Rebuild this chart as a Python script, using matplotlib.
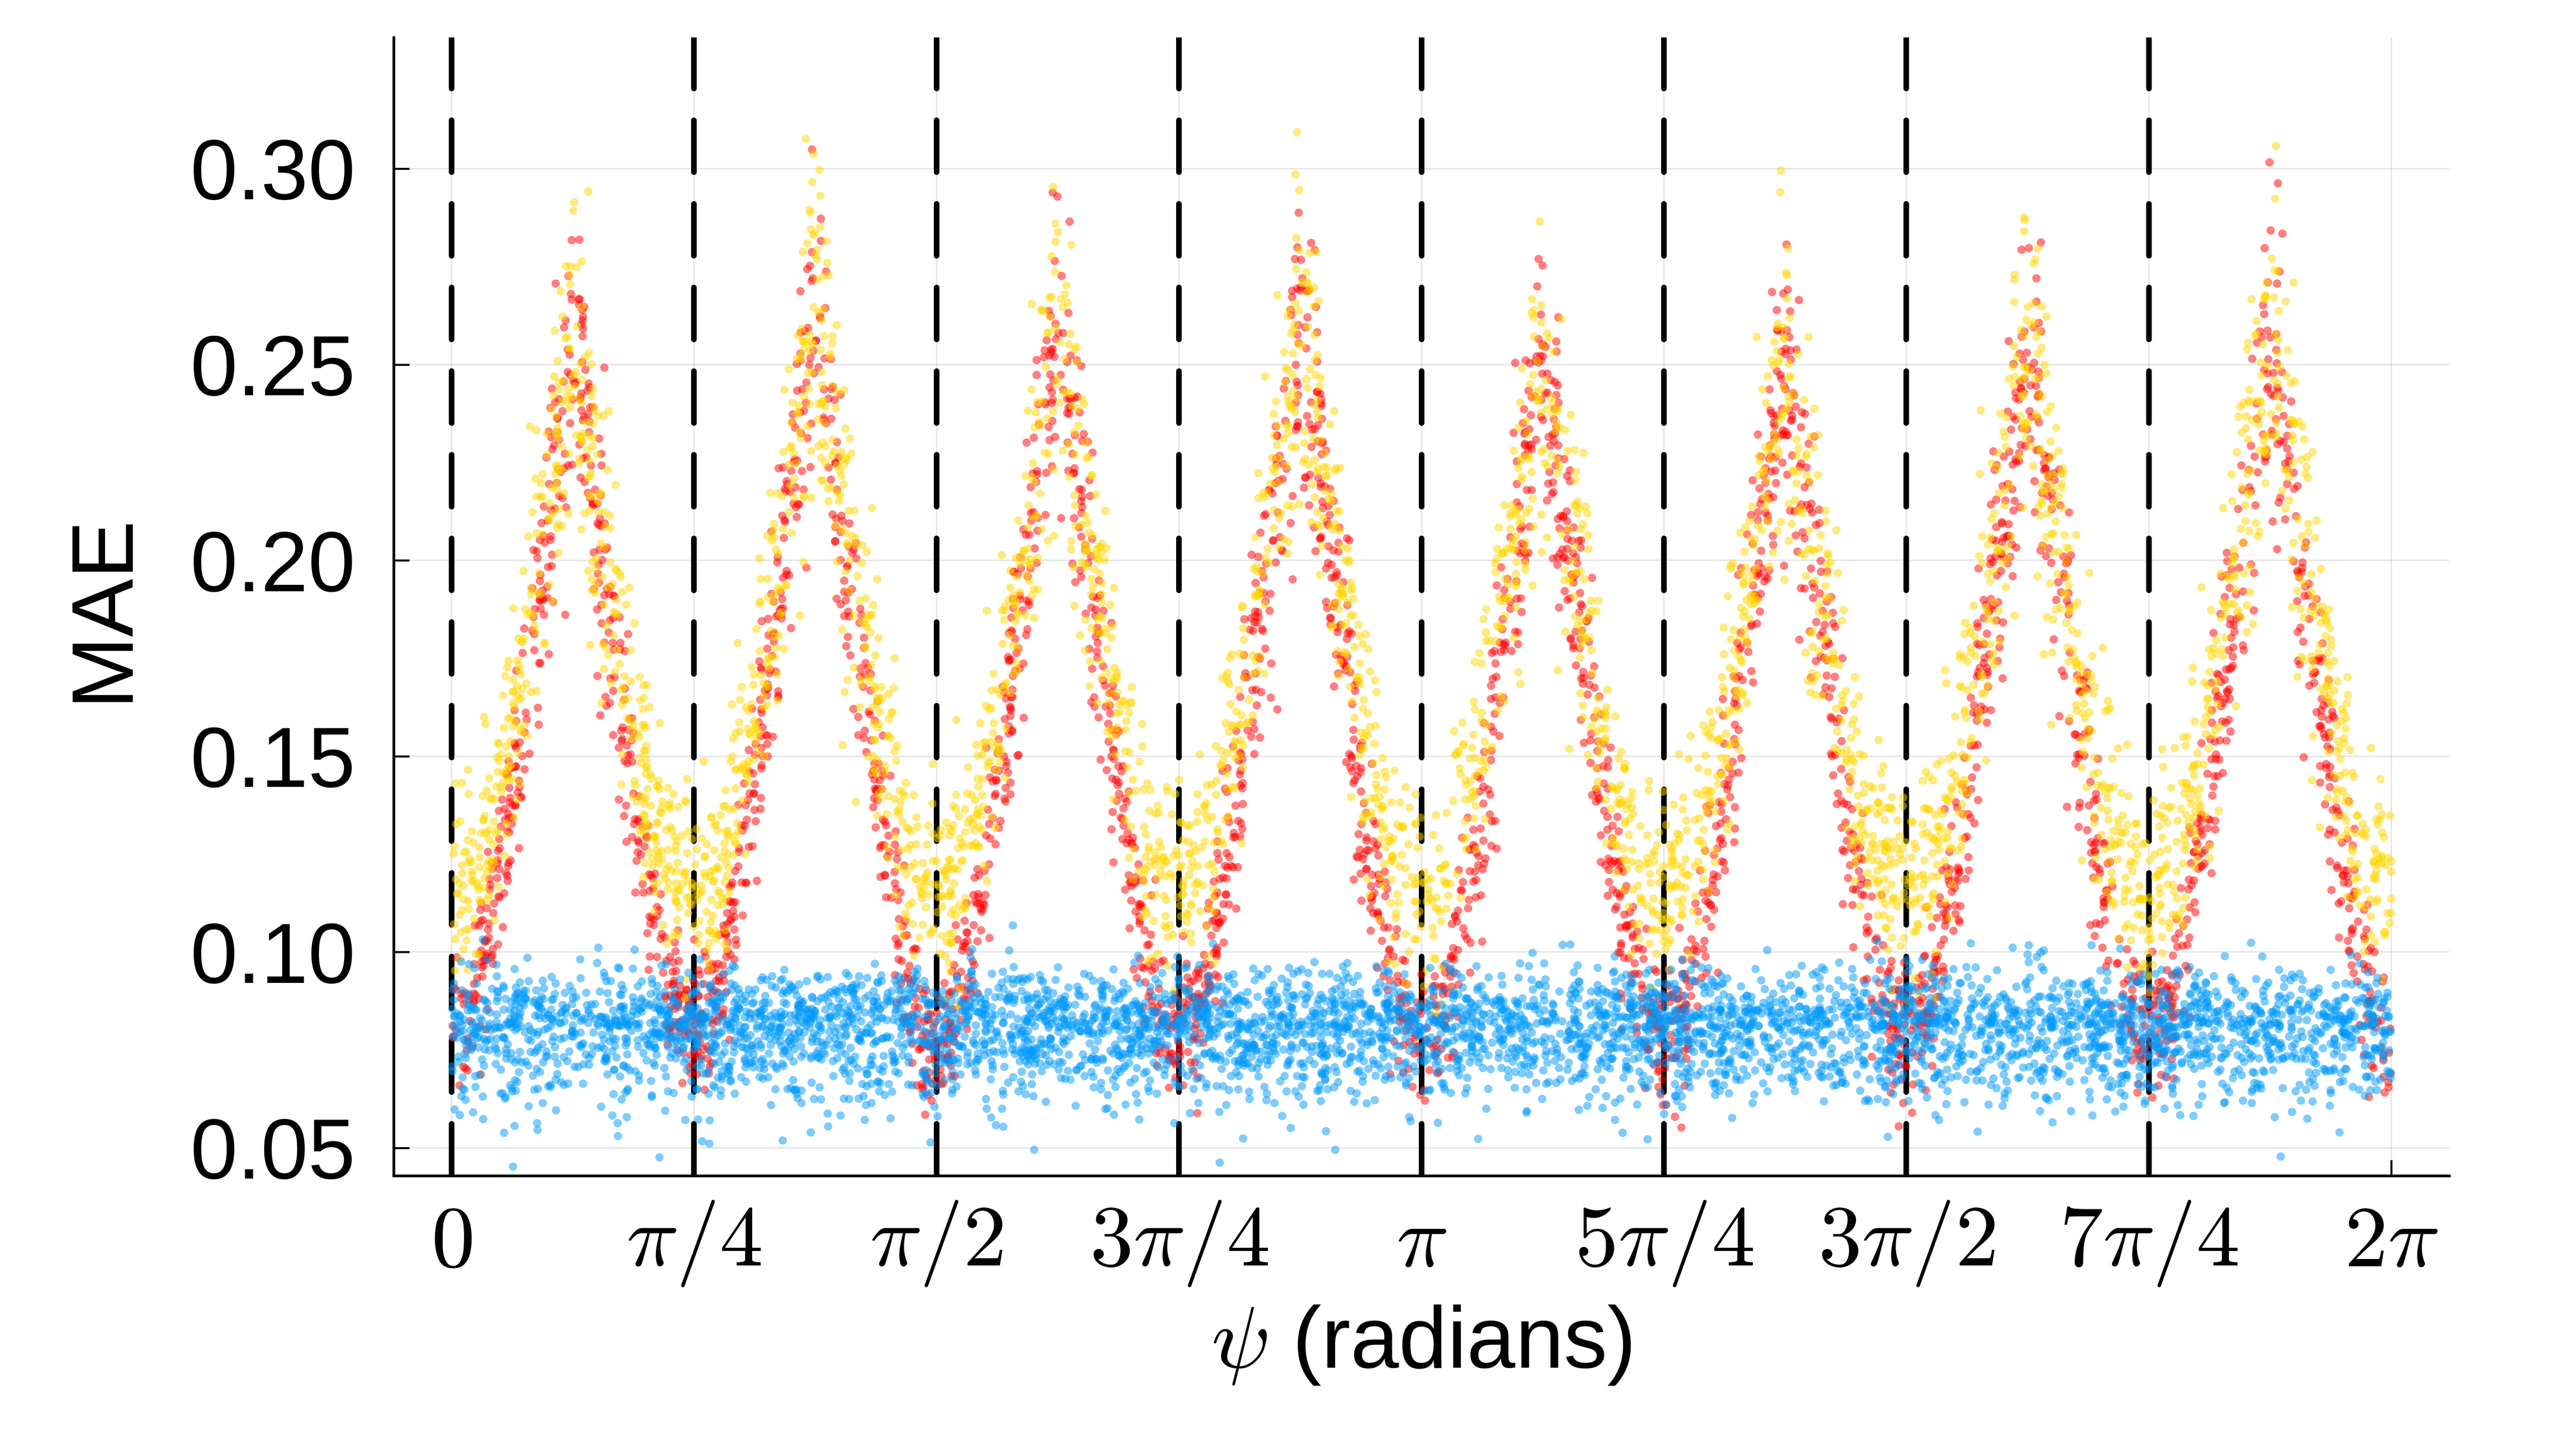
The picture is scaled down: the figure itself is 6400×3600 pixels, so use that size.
import numpy as np
import matplotlib
matplotlib.use("Agg")
import matplotlib.pyplot as plt

# ---------------- data ----------------
# Tick positions / labels
x_ticks = [0, np.pi/4, np.pi/2, 3*np.pi/4, np.pi, 5*np.pi/4, 3*np.pi/2, 7*np.pi/4, 2*np.pi]
x_tick_labels = [r'$0$', r'$\pi/4$', r'$\pi/2$', r'$3\pi/4$', r'$\pi$',
                 r'$5\pi/4$', r'$3\pi/2$', r'$7\pi/4$', r'$2\pi$']
y_ticks = [0.05, 0.10, 0.15, 0.20, 0.25, 0.30]
y_tick_labels = ['0.05', '0.10', '0.15', '0.20', '0.25', '0.30']
dashed_x = [0, np.pi/4, np.pi/2, 3*np.pi/4, np.pi, 5*np.pi/4, 3*np.pi/2, 7*np.pi/4]

# Red series: trough values at k*pi/4 (k=0..8) and peak values at (k+1/2)*pi/4
red_troughs = [0.079, 0.079, 0.078, 0.079, 0.078, 0.079, 0.079, 0.079, 0.079]
red_peaks = [0.255, 0.265, 0.260, 0.262, 0.250, 0.250, 0.255, 0.258]
# Yellow series
yellow_troughs = [0.117, 0.116, 0.117, 0.116, 0.117, 0.117, 0.116, 0.117, 0.117]
yellow_peaks = [0.256, 0.266, 0.261, 0.263, 0.252, 0.251, 0.256, 0.259]
# Shape of a flank: fraction of the rise (trough -> peak) at fraction f of the half period
flank_f = [0.0, 0.10, 0.20, 0.30, 0.45, 0.60, 0.75, 0.88, 1.0]
red_profile = [0.0, 0.012, 0.052, 0.145, 0.283, 0.485, 0.670, 0.844, 1.0]
yellow_profile = [0.0, 0.007, 0.036, 0.109, 0.254, 0.442, 0.638, 0.820, 1.0]
# Spread of each cloud: sigma = a + b * value
red_spread = [0.004, 0.060]
yellow_spread = [0.004, 0.070]
# Blue series: flat cloud
blue_center = 0.0805
blue_sigma_up = 0.0075
blue_sigma_down = 0.0095
# Number of points in each cloud (estimated)
n_blue, n_red, n_yellow = 4800, 3400, 3400

# ---------------- build clouds ----------------
seg = np.pi / 4


def nodes(troughs, peaks, profile):
    xs, ys = [], []
    for k in range(len(peaks)):
        t0, t1, p = troughs[k], troughs[k + 1], peaks[k]
        for f, pr in zip(flank_f, profile):
            xs.append(k * seg + f * seg / 2)
            ys.append(t0 + pr * (p - t0))
        for f, pr in list(zip(flank_f, profile))[::-1][1:]:
            xs.append((k + 1) * seg - f * seg / 2)
            ys.append(t1 + pr * (p - t1))
    return np.array(xs), np.array(ys)


rng = np.random.default_rng(11)


def cloud(n, troughs, peaks, profile, spread):
    nx, ny = nodes(troughs, peaks, profile)
    x = rng.uniform(0, 2 * np.pi, n)
    c = np.interp(x, nx, ny)
    y = c + (spread[0] + spread[1] * c) * rng.standard_normal(n)
    return x, y


xr, yr = cloud(n_red, red_troughs, red_peaks, red_profile, red_spread)
xy, yy = cloud(n_yellow, yellow_troughs, yellow_peaks, yellow_profile, yellow_spread)
xb = rng.uniform(0, 2 * np.pi, n_blue)
zb = rng.standard_normal(n_blue)
yb = blue_center + np.where(zb > 0, blue_sigma_up, blue_sigma_down) * zb

# ---------------- plot ----------------
plt.rcParams['font.family'] = ['Liberation Sans', 'DejaVu Sans']
plt.rcParams['mathtext.fontset'] = 'cm'

fig = plt.figure(figsize=(16, 9), dpi=400)
ax = fig.add_axes([0.1528, 0.1886, 0.7980, 0.7856])

ax.set_xlim(-0.188, 2 * np.pi + 0.188)
ax.set_ylim(0.0429, 0.3335)

ax.set_axisbelow(True)
ax.grid(True, color='black', alpha=0.1, lw=0.65)

lw_dash = 2.5
for xv in dashed_x:
    ax.plot([xv, xv], [0, 1], transform=ax.get_xaxis_transform(), color='black',
            lw=lw_dash, dashes=(23.2 / lw_dash, 14.2 / lw_dash),
            dash_capstyle='round', zorder=1.5)

ms = 14
ax.scatter(xr, yr, s=ms, color='#FF0000', alpha=0.5, linewidths=0, zorder=2)
ax.scatter(xy, yy, s=ms, color='#FFD700', alpha=0.5, linewidths=0, zorder=2.1)
ax.scatter(xb, yb, s=ms, color='#009AFA', alpha=0.5, linewidths=0, zorder=2.2)

ax.set_xticks(x_ticks)
ax.set_xticklabels(x_tick_labels, fontsize=39)
ax.set_yticks(y_ticks)
ax.set_yticklabels(y_tick_labels, fontsize=38)
for lab in ax.get_xticklabels():
    lab.set_verticalalignment('center')

ax.tick_params(axis='x', direction='in', length=7, width=0.9, pad=30.4,
               top=False, bottom=True)
ax.tick_params(axis='y', direction='in', length=7, width=0.9, pad=17,
               left=True, right=False)

for s in ['top', 'right']:
    ax.spines[s].set_visible(False)
for s in ['left', 'bottom']:
    ax.spines[s].set_linewidth(1.2)

fig.text(257 / 6400, 1 - 1509 / 3600, 'MAE', rotation=90, ha='center', va='center',
         fontsize=39)
fig.text(3531 / 6400, 1 - 3342 / 3600, r'$\psi$ (radians)', ha='center', va='center',
         fontsize=39)

fig.savefig('out.png', dpi=400, facecolor='white')
